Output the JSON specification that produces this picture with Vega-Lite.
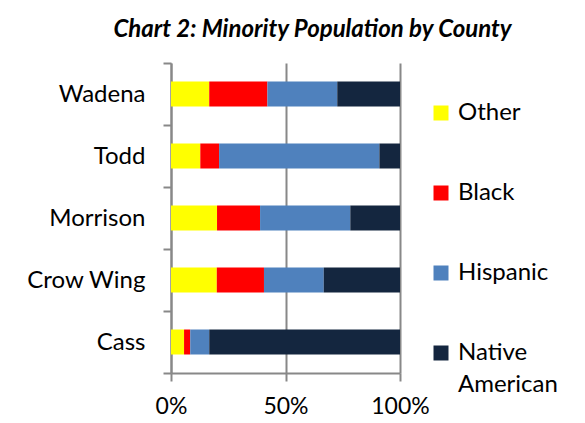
{
  "$schema": "https://vega.github.io/schema/vega-lite/v6.json",
  "width": 229,
  "height": 310,
  "autosize": {"type": "none"},
  "padding": {"left": 171, "top": 63, "right": 185, "bottom": 50},
  "background": "white",
  "title": {
    "text": "Chart 2: Minority Population by County",
    "font": "Lato",
    "fontSize": 24,
    "fontWeight": "bold",
    "fontStyle": "italic",
    "color": "black",
    "anchor": "middle",
    "frame": "group",
    "dx": 27,
    "offset": 9
  },
  "data": {
    "values": [
      {"county": "Wadena", "group": "Other", "pct": 16.7},
      {"county": "Wadena", "group": "Black", "pct": 25.4},
      {"county": "Wadena", "group": "Hispanic", "pct": 30.5},
      {"county": "Wadena", "group": "Native American", "pct": 27.4},
      {"county": "Todd", "group": "Other", "pct": 12.8},
      {"county": "Todd", "group": "Black", "pct": 8.2},
      {"county": "Todd", "group": "Hispanic", "pct": 70.0},
      {"county": "Todd", "group": "Native American", "pct": 9.0},
      {"county": "Morrison", "group": "Other", "pct": 20.1},
      {"county": "Morrison", "group": "Black", "pct": 18.8},
      {"county": "Morrison", "group": "Hispanic", "pct": 39.4},
      {"county": "Morrison", "group": "Native American", "pct": 21.7},
      {"county": "Crow Wing", "group": "Other", "pct": 20.0},
      {"county": "Crow Wing", "group": "Black", "pct": 20.6},
      {"county": "Crow Wing", "group": "Hispanic", "pct": 26.1},
      {"county": "Crow Wing", "group": "Native American", "pct": 33.3},
      {"county": "Cass", "group": "Other", "pct": 5.7},
      {"county": "Cass", "group": "Black", "pct": 2.7},
      {"county": "Cass", "group": "Hispanic", "pct": 8.3},
      {"county": "Cass", "group": "Native American", "pct": 83.3}
    ]
  },
  "transform": [
    {"calculate": "indexof(['Other','Black','Hispanic','Native American'], datum.group)", "as": "stackOrder"}
  ],
  "mark": {"type": "bar", "size": 25},
  "encoding": {
    "y": {
      "field": "county",
      "type": "nominal",
      "sort": ["Wadena", "Todd", "Morrison", "Crow Wing", "Cass"],
      "scale": {"padding": 0},
      "axis": {
        "title": null,
        "tickBand": "extent",
        "domainColor": "#888888",
        "domainWidth": 2,
        "tickColor": "#888888",
        "tickWidth": 2,
        "tickSize": 8,
        "labelFont": "Lato",
        "labelFontSize": 24,
        "labelColor": "black",
        "labelPadding": 18,
        "grid": false
      }
    },
    "x": {
      "field": "pct",
      "type": "quantitative",
      "stack": "normalize",
      "scale": {"domain": [0, 1], "nice": false},
      "axis": {
        "title": null,
        "values": [0, 0.5, 1],
        "format": ".0%",
        "domainColor": "#888888",
        "domainWidth": 2,
        "tickColor": "#888888",
        "tickWidth": 2,
        "tickSize": 8,
        "grid": true,
        "gridColor": "#888888",
        "gridWidth": 2,
        "labelFont": "Lato",
        "labelFontSize": 23,
        "labelColor": "black",
        "labelPadding": 14,
        "labelFlush": false
      }
    },
    "color": {
      "field": "group",
      "type": "nominal",
      "scale": {
        "domain": ["Other", "Black", "Hispanic", "Native American"],
        "range": ["#FFFF00", "#FF0000", "#4F81BD", "#14263F"]
      },
      "legend": {
        "title": null,
        "orient": "none",
        "legendX": 258,
        "legendY": 38,
        "symbolType": "square",
        "symbolSize": 225,
        "symbolStrokeWidth": 0,
        "symbolOpacity": 1,
        "labelFont": "Lato",
        "labelFontSize": 24,
        "labelColor": "black",
        "labelOffset": 5,
        "rowPadding": 56,
        "labelExpr": "datum.label == 'Native American' ? ['Native', 'American'] : datum.label",
        "encode": {
          "labels": {
            "update": {
              "lineHeight": {"value": 32}
            }
          }
        }
      }
    },
    "order": {"field": "stackOrder", "type": "quantitative"}
  },
  "config": {
    "view": {"stroke": null}
  }
}
